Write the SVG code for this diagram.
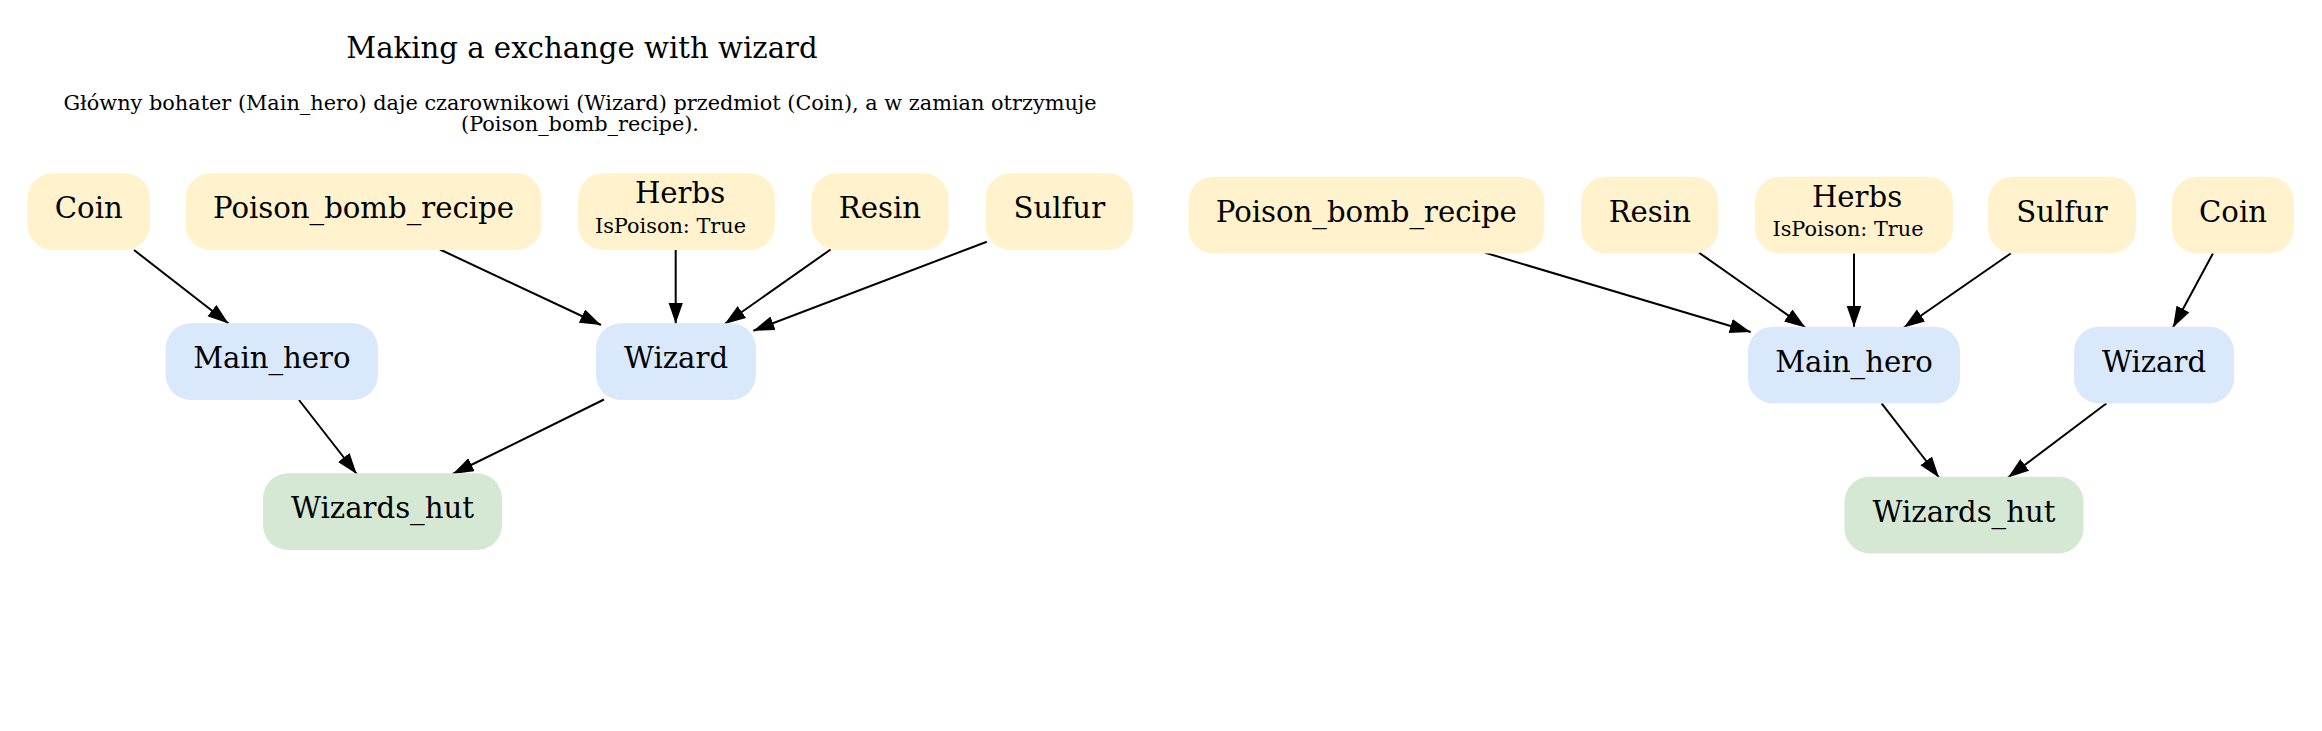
<svg xmlns="http://www.w3.org/2000/svg" width="2322" height="731" viewBox="0 0 2322 731">
<style>
text{font-family:"DejaVu Serif","Liberation Serif",serif;fill:#000}
.lbl{font-size:29.17px;text-anchor:middle}
.sm{font-size:20.83px;text-anchor:middle}
.item{fill:#FFF2CC}
.actor{fill:#DAE8FC}
.place{fill:#D5E8D4}
.edge{stroke:#000;stroke-width:2;fill:none}
</style>
<defs>
<marker id="ah" markerUnits="userSpaceOnUse" markerWidth="22" markerHeight="16" refX="21" refY="7.3" orient="auto">
<path d="M0,0 L21,7.3 L0,14.6 z" fill="#000"/>
</marker>
</defs>
<rect width="2322" height="731" fill="#fff"/>
<g id="title">
<text class="lbl" x="582" y="58">Making a exchange with wizard</text>
<text class="sm" x="580" y="110">Główny bohater (Main_hero) daje czarownikowi (Wizard) przedmiot (Coin), a w zamian otrzymuje</text>
<text class="sm" x="580" y="131">(Poison_bomb_recipe).</text>
</g>
<g id="edges">
<path class="edge" marker-end="url(#ah)" d="M134,250 L228.5,323.5"/>
<path class="edge" marker-end="url(#ah)" d="M440,249.5 L601,325"/>
<path class="edge" marker-end="url(#ah)" d="M675.7,250 L675.7,323.5"/>
<path class="edge" marker-end="url(#ah)" d="M830.6,249.5 L724.7,324"/>
<path class="edge" marker-end="url(#ah)" d="M986.8,241.7 L753.4,330.7"/>
<path class="edge" marker-end="url(#ah)" d="M299,400 L356.7,474"/>
<path class="edge" marker-end="url(#ah)" d="M604,399.5 L452.7,474"/>
<path class="edge" marker-end="url(#ah)" d="M1485,252.7 L1750.7,332"/>
<path class="edge" marker-end="url(#ah)" d="M1699,252.7 L1805.4,327.5"/>
<path class="edge" marker-end="url(#ah)" d="M1854,253.3 L1854,327"/>
<path class="edge" marker-end="url(#ah)" d="M2011,253.3 L1903.8,327.5"/>
<path class="edge" marker-end="url(#ah)" d="M2213,253.3 L2173,327.5"/>
<path class="edge" marker-end="url(#ah)" d="M1881.6,403.3 L1939,477.5"/>
<path class="edge" marker-end="url(#ah)" d="M2106.6,403.3 L2008,477.5"/>
</g>
<g id="L_Coin"><rect class="item" x="27.5" y="173.3" width="122.5" height="76.7" rx="25"/><text class="lbl" x="88.8" y="218.3">Coin</text></g>
<g id="L_Poison_bomb_recipe"><rect class="item" x="185.6" y="173.3" width="355.9" height="76.7" rx="25"/><text class="lbl" x="363.5" y="218.3">Poison_bomb_recipe</text></g>
<g id="L_Herbs"><rect class="item" x="578" y="173.3" width="197" height="76.7" rx="25"/><text class="lbl" x="680" y="203.3">Herbs</text><text class="sm" x="670.5" y="232.7">IsPoison: True</text></g>
<g id="L_Resin"><rect class="item" x="811.5" y="173.3" width="137" height="76.7" rx="25"/><text class="lbl" x="880" y="218.3">Resin</text></g>
<g id="L_Sulfur"><rect class="item" x="985.6" y="173.3" width="147.4" height="76.7" rx="25"/><text class="lbl" x="1059.3" y="218.3">Sulfur</text></g>
<g id="L_Main_hero"><rect class="actor" x="165.7" y="323.3" width="212.3" height="76.7" rx="25"/><text class="lbl" x="271.9" y="368.3">Main_hero</text></g>
<g id="L_Wizard"><rect class="actor" x="596" y="323.3" width="160" height="76.7" rx="25"/><text class="lbl" x="676" y="368.3">Wizard</text></g>
<g id="L_Wizards_hut"><rect class="place" x="263" y="473.3" width="239" height="76.7" rx="25"/><text class="lbl" x="382.5" y="518.3">Wizards_hut</text></g>
<g id="R_Poison_bomb_recipe"><rect class="item" x="1188.4" y="176.7" width="355.9" height="76.7" rx="25"/><text class="lbl" x="1366.3" y="221.7">Poison_bomb_recipe</text></g>
<g id="R_Resin"><rect class="item" x="1581" y="176.7" width="137.5" height="76.7" rx="25"/><text class="lbl" x="1649.8" y="221.7">Resin</text></g>
<g id="R_Herbs"><rect class="item" x="1755" y="176.7" width="198" height="76.7" rx="25"/><text class="lbl" x="1857" y="206.7">Herbs</text><text class="sm" x="1848" y="236">IsPoison: True</text></g>
<g id="R_Sulfur"><rect class="item" x="1988" y="176.7" width="148" height="76.7" rx="25"/><text class="lbl" x="2062" y="221.7">Sulfur</text></g>
<g id="R_Coin"><rect class="item" x="2172" y="176.7" width="122" height="76.7" rx="25"/><text class="lbl" x="2233" y="221.7">Coin</text></g>
<g id="R_Main_hero"><rect class="actor" x="1748" y="326.7" width="212" height="76.7" rx="25"/><text class="lbl" x="1854" y="371.7">Main_hero</text></g>
<g id="R_Wizard"><rect class="actor" x="2074" y="326.7" width="160" height="76.7" rx="25"/><text class="lbl" x="2154" y="371.7">Wizard</text></g>
<g id="R_Wizards_hut"><rect class="place" x="1844.5" y="476.7" width="239" height="76.7" rx="25"/><text class="lbl" x="1964" y="521.7">Wizards_hut</text></g>
</svg>
